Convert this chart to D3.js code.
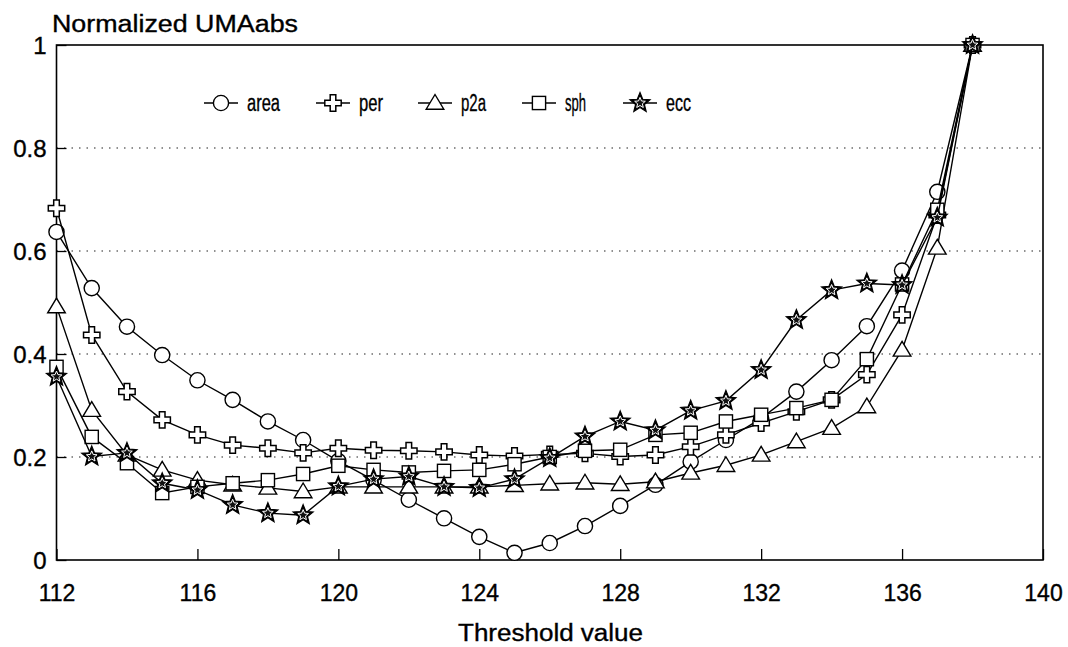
<!DOCTYPE html>
<html>
<head>
<meta charset="utf-8">
<script src="https://cdn.jsdelivr.net/npm/d3@7"></script>
<style>
  html, body { margin: 0; padding: 0; background: #fff; }
  svg { display: block; font-family: "Liberation Sans", Arial, Helvetica, sans-serif; }
  text { stroke: #000; stroke-width: 0.35px; }
</style>
</head>
<body>
<svg id="chart" width="1068" height="647"></svg>
<script>
// Threshold values (x) and the normalized UMAabs of each feature
const thresholds = [112,113,114,115,116,117,118,119,120,121,122,123,124,125,126,127,128,129,130,131,132,133,134,135,136,137,138];
const area = [0.637,0.528,0.453,0.398,0.349,0.311,0.269,0.233,0.192,0.155,0.117,0.081,0.045,0.014,0.033,0.066,0.105,0.146,0.191,0.233,0.275,0.327,0.388,0.454,0.562,0.715,1.0];
const per  = [0.683,0.437,0.327,0.272,0.243,0.223,0.217,0.208,0.217,0.213,0.212,0.210,0.204,0.202,0.205,0.207,0.201,0.204,0.220,0.243,0.266,0.288,0.311,0.360,0.476,0.670,1.0];
const p2a  = [0.492,0.291,0.204,0.175,0.155,0.146,0.140,0.133,0.142,0.142,0.142,0.142,0.142,0.145,0.148,0.150,0.147,0.152,0.169,0.184,0.204,0.230,0.256,0.298,0.408,0.606,1.0];
const sph  = [0.375,0.239,0.188,0.130,0.142,0.149,0.155,0.167,0.183,0.175,0.170,0.173,0.175,0.186,0.200,0.212,0.214,0.243,0.247,0.269,0.282,0.295,0.311,0.390,0.535,0.680,1.0];
const ecc  = [0.356,0.201,0.208,0.149,0.136,0.107,0.091,0.087,0.143,0.157,0.162,0.142,0.140,0.157,0.198,0.240,0.269,0.252,0.290,0.309,0.369,0.466,0.524,0.537,0.534,0.665,1.0];

const seriesNames = ["area", "per", "p2a", "sph", "ecc"];
const seriesValues = [area, per, p2a, sph, ecc];
const xTicks = [112,116,120,124,128,132,136,140];
const yTicks = [0,0.2,0.4,0.6,0.8,1];
const yTickLabels = ["0","0.2","0.4","0.6","0.8","1"];
const gridValues = [0.2,0.4,0.6,0.8];

const svg = d3.select("#chart");
const plotLeft = 56.5, plotRight = 1043, plotTop = 45, plotBottom = 560;

const x = d3.scaleLinear().domain([112, 140]).range([plotLeft, plotRight]);
const y = d3.scaleLinear().domain([0, 1]).range([plotBottom, plotTop]);

// dotted horizontal grid
svg.append("g").selectAll("line").data(gridValues).join("line")
  .attr("x1", plotLeft).attr("x2", plotRight)
  .attr("y1", d => y(d)).attr("y2", d => y(d))
  .attr("stroke", "#222").attr("stroke-width", 1.2)
  .attr("stroke-dasharray", "1.5,6");

// bottom axis: inward ticks, labels below
const xAxis = svg.append("g").attr("transform", `translate(0,${plotBottom})`)
  .call(d3.axisBottom(x).tickValues(xTicks).tickSize(-11).tickPadding(0).tickFormat(d3.format("d")));
xAxis.select(".domain").remove();
xAxis.selectAll(".tick line").attr("stroke", "#000").attr("stroke-width", 1.3);
xAxis.selectAll(".tick text").attr("y", 41).attr("dy", null)
  .attr("font-size", 23).attr("fill", "#000")
  .attr("font-family", "'Liberation Sans', Arial, sans-serif");

// left axis: inward ticks, labels to the left
const yAxis = svg.append("g").attr("transform", `translate(${plotLeft},0)`)
  .call(d3.axisLeft(y).tickValues(yTicks).tickSize(-10).tickPadding(0)
    .tickFormat((d, i) => yTickLabels[i]));
yAxis.select(".domain").remove();
yAxis.selectAll(".tick line").attr("stroke", "#000").attr("stroke-width", 1.3);
yAxis.selectAll(".tick text").attr("x", -10).attr("dy", "0.36em")
  .attr("font-size", 24).attr("fill", "#000")
  .attr("font-family", "'Liberation Sans', Arial, sans-serif");

// plot frame
svg.append("rect")
  .attr("x", plotLeft).attr("y", plotTop)
  .attr("width", plotRight - plotLeft).attr("height", plotBottom - plotTop)
  .attr("fill", "none").attr("stroke", "#000").attr("stroke-width", 1.6);

// marker shapes
function starPath(rOuter, rInner) {
  const pts = [];
  for (let i = 0; i < 10; i++) {
    const r = i % 2 === 0 ? rOuter : rInner;
    const a = -Math.PI / 2 + i * Math.PI / 5;
    pts.push([r * Math.cos(a), r * Math.sin(a)]);
  }
  return "M" + pts.map(p => p[0].toFixed(2) + "," + p[1].toFixed(2)).join("L") + "Z";
}
const crossPath = (() => {
  const a = 2.8, b = 8.2;
  return `M${-a},${-b}H${a}V${-a}H${b}V${a}H${a}V${b}H${-a}V${a}H${-b}V${-a}H${-a}Z`;
})();

function drawMarker(g, name) {
  if (name === "area") {
    g.append("circle").attr("r", 7.6).attr("fill", "#fff").attr("stroke", "#000").attr("stroke-width", 1.4);
  } else if (name === "per") {
    g.append("path").attr("d", crossPath).attr("fill", "#fff").attr("stroke", "#000").attr("stroke-width", 1.5);
  } else if (name === "p2a") {
    g.append("path").attr("d", "M0,-8.5L8.8,6.2L-8.8,6.2Z").attr("fill", "#fff").attr("stroke", "#000").attr("stroke-width", 1.4);
  } else if (name === "sph") {
    g.append("rect").attr("x", -6.6).attr("y", -6.6).attr("width", 13.2).attr("height", 13.2)
      .attr("fill", "#fff").attr("stroke", "#000").attr("stroke-width", 1.4);
  } else if (name === "ecc") {
    g.append("path").attr("d", starPath(10.5, 4.6)).attr("fill", "#000").attr("stroke", "#000").attr("stroke-width", 1.2);
    g.append("path").attr("d", starPath(5.6, 2.5)).attr("fill", "#111").attr("stroke", "#fff").attr("stroke-width", 1);
  }
}

const line = d3.line().x(d => x(d[0])).y(d => y(d[1]));

seriesNames.forEach((name, si) => {
  const pts = thresholds.map((t, i) => [t, seriesValues[si][i]]);
  const g = svg.append("g").attr("class", "series-" + name);
  g.append("path").datum(pts).attr("d", line)
    .attr("fill", "none").attr("stroke", "#000").attr("stroke-width", 1.4);
  g.selectAll("g.m").data(pts).join("g").attr("class", "m")
    .attr("transform", d => `translate(${x(d[0])},${y(d[1])})`)
    .each(function () { drawMarker(d3.select(this), name); });
});

// legend row
const legendX = [204, 316, 418, 522, 623];
const legendY = 103;
const legendTextW = [33, 24, 25, 21, 25];
seriesNames.forEach((name, i) => {
  const g = svg.append("g").attr("transform", `translate(${legendX[i]},${legendY})`);
  g.append("line").attr("x1", 0).attr("x2", 34).attr("y1", 0).attr("y2", 0)
    .attr("stroke", "#000").attr("stroke-width", 1.4);
  const m = g.append("g").attr("transform", "translate(17,0)");
  drawMarker(m, name);
  g.append("text").attr("x", 43).attr("y", 8)
    .attr("font-size", 23).attr("fill", "#000")
    .attr("textLength", legendTextW[i]).attr("lengthAdjust", "spacingAndGlyphs")
    .text(name);
});

// titles
svg.append("text").attr("x", 52).attr("y", 32)
  .attr("font-size", 23).attr("fill", "#000")
  .attr("textLength", 246).attr("lengthAdjust", "spacingAndGlyphs")
  .text("Normalized UMAabs");

svg.append("text").attr("x", 458).attr("y", 641)
  .attr("font-size", 23).attr("fill", "#000")
  .attr("textLength", 185).attr("lengthAdjust", "spacingAndGlyphs")
  .text("Threshold value");
</script>
</body>
</html>
